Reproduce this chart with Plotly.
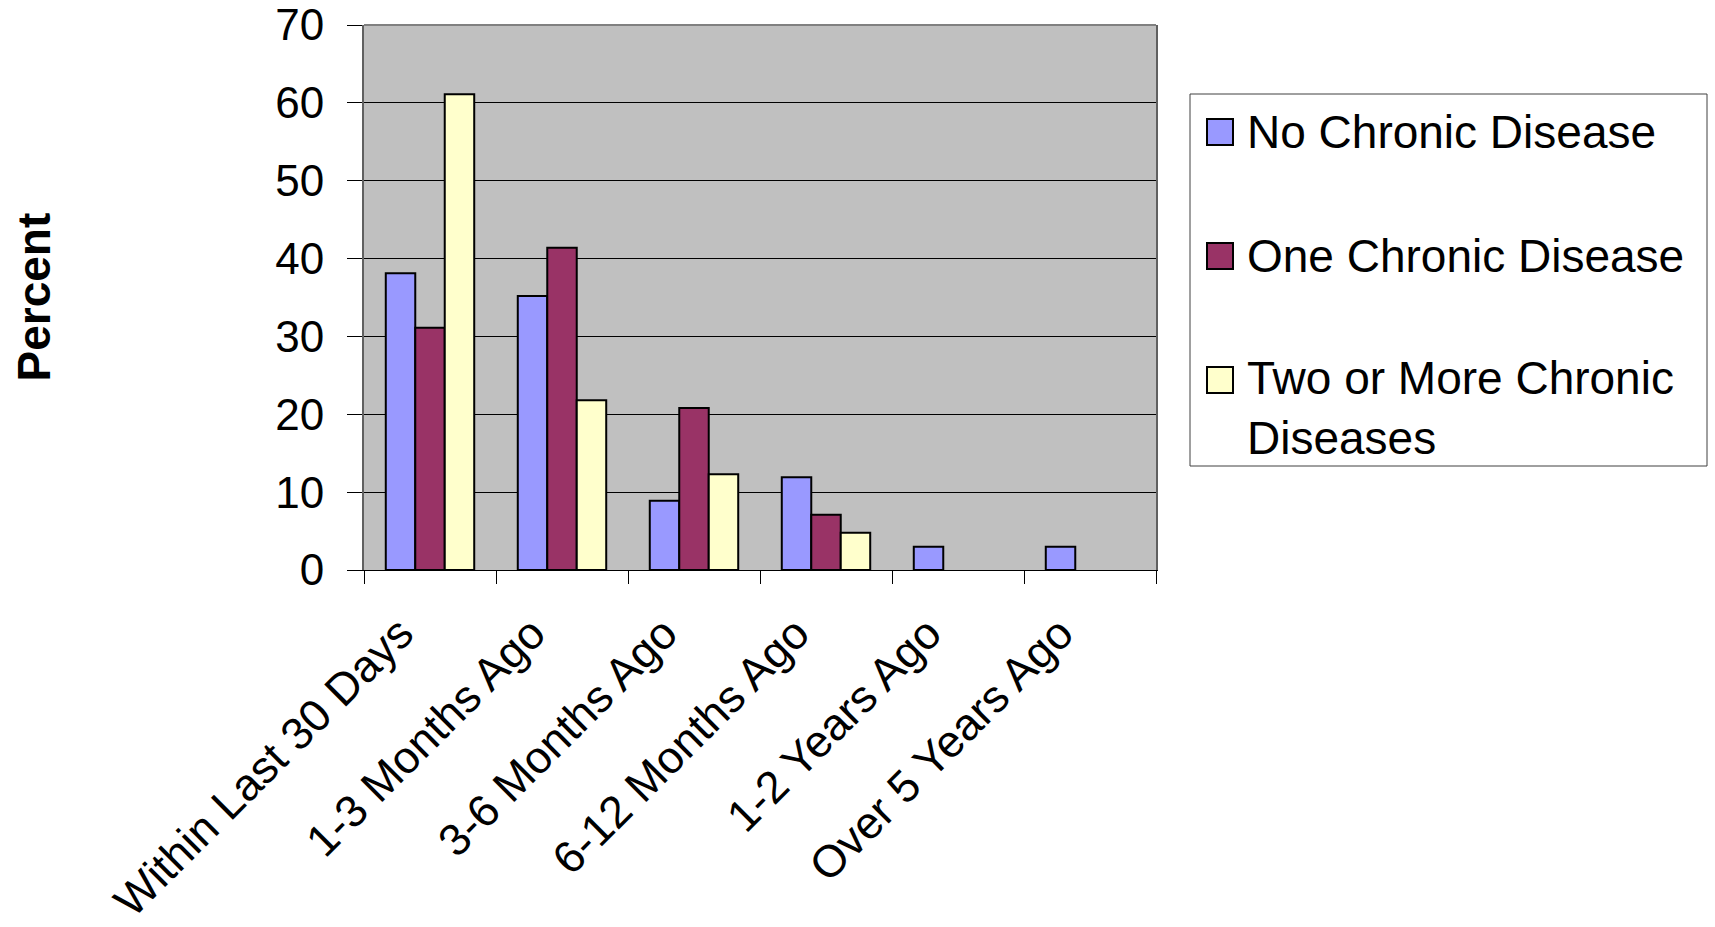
import plotly.graph_objects as go

# Time since last visit, by number of chronic diseases
categories = [
    "Within Last 30 Days",
    "1-3 Months Ago",
    "3-6 Months Ago",
    "6-12 Months Ago",
    "1-2 Years Ago",
    "Over 5 Years Ago",
]
no_chronic = [38.1, 35.2, 8.9, 11.9, 3.0, 3.0]
one_chronic = [31.1, 41.4, 20.8, 7.1, 0, 0]
two_plus_chronic = [61.1, 21.8, 12.3, 4.8, 0, 0]

series_names = ["No Chronic Disease", "One Chronic Disease", "Two or More Chronic<br>Diseases"]
series_values = [no_chronic, one_chronic, two_plus_chronic]
series_colors = ["#9999FF", "#993366", "#FFFFCC"]
y_ticks = [0, 10, 20, 30, 40, 50, 60, 70]

FONT = "Liberation Sans, Arial, sans-serif"
W, H = 1715, 927
PL, PR, PT, PB = 364, 1156, 25, 570  # plot area in pixels


def px_x(x):
    return (x - PL) / (PR - PL)


def px_y(y):
    return (PB - y) / (PB - PT)


fig = go.Figure()
for name, vals, color in zip(series_names, series_values, series_colors):
    fig.add_trace(go.Bar(
        x=categories,
        y=vals,
        name=name.replace("<br>", " "),
        marker=dict(
            color=color,
            # no outline on empty bars
            line=dict(color="black", width=[2 if v > 0 else 0 for v in vals]),
        ),
        showlegend=False,
    ))

shapes = [
    # top frame of the plot area
    dict(type="line", xref="paper", yref="paper", x0=0, x1=1, y0=1, y1=1,
         line=dict(color="#808080", width=2)),
    # legend box
    dict(type="rect", xref="paper", yref="paper",
         x0=px_x(1190), x1=px_x(1707), y0=px_y(94), y1=px_y(466),
         line=dict(color="#404040", width=1), fillcolor="white"),
]
annotations = [
    dict(text="<b>Percent</b>", xref="paper", yref="paper",
         x=px_x(33), y=0.5, xanchor="center", yanchor="middle",
         textangle=-90, showarrow=False, font=dict(family=FONT, size=46, color="black")),
]

legend_centers = [132, 256, 380]
for name, color, cy in zip(series_names, series_colors, legend_centers):
    shapes.append(dict(type="rect", xref="paper", yref="paper",
                       x0=px_x(1207), x1=px_x(1233), y0=px_y(cy + 13), y1=px_y(cy - 13),
                       fillcolor=color, line=dict(color="black", width=2)))
    multi = "<br>" in name
    annotations.append(dict(
        text=name, xref="paper", yref="paper",
        x=px_x(1245), y=px_y(cy - 30) if multi else px_y(cy),
        xanchor="left", yanchor="top" if multi else "middle", align="left",
        showarrow=False, font=dict(family=FONT, size=46, color="black"),
    ))

fig.update_layout(
    width=W, height=H, autosize=False,
    margin=dict(l=PL, r=W - PR, t=PT, b=H - PB, pad=0, autoexpand=False),
    paper_bgcolor="white",
    plot_bgcolor="#C0C0C0",
    barmode="group",
    bargap=0.33,
    bargroupgap=0,
    font=dict(family=FONT, size=44, color="black"),
    shapes=shapes,
    annotations=annotations,
    showlegend=False,
)
fig.update_xaxes(
    type="category",
    tickson="boundaries",
    ticks="outside", ticklen=13, tickwidth=1, tickcolor="black",
    tickangle=-45,
    ticklabelshift=-30,
    ticklabelstandoff=18,
    tickfont=dict(family=FONT, size=45, color="black"),
    showline=True, linecolor="black", linewidth=1,
    showgrid=False,
    automargin=False,
)
fig.update_yaxes(
    range=[0, 70],
    tickvals=y_ticks,
    ticks="outside", ticklen=15, tickwidth=1, tickcolor="black",
    ticklabelstandoff=14,
    tickfont=dict(family=FONT, size=44, color="black"),
    showline=True, linecolor="#606060", linewidth=2, mirror=True,
    showgrid=True, gridcolor="black", gridwidth=1,
    zeroline=False,
    automargin=False,
)

fig.write_html("out.html")
